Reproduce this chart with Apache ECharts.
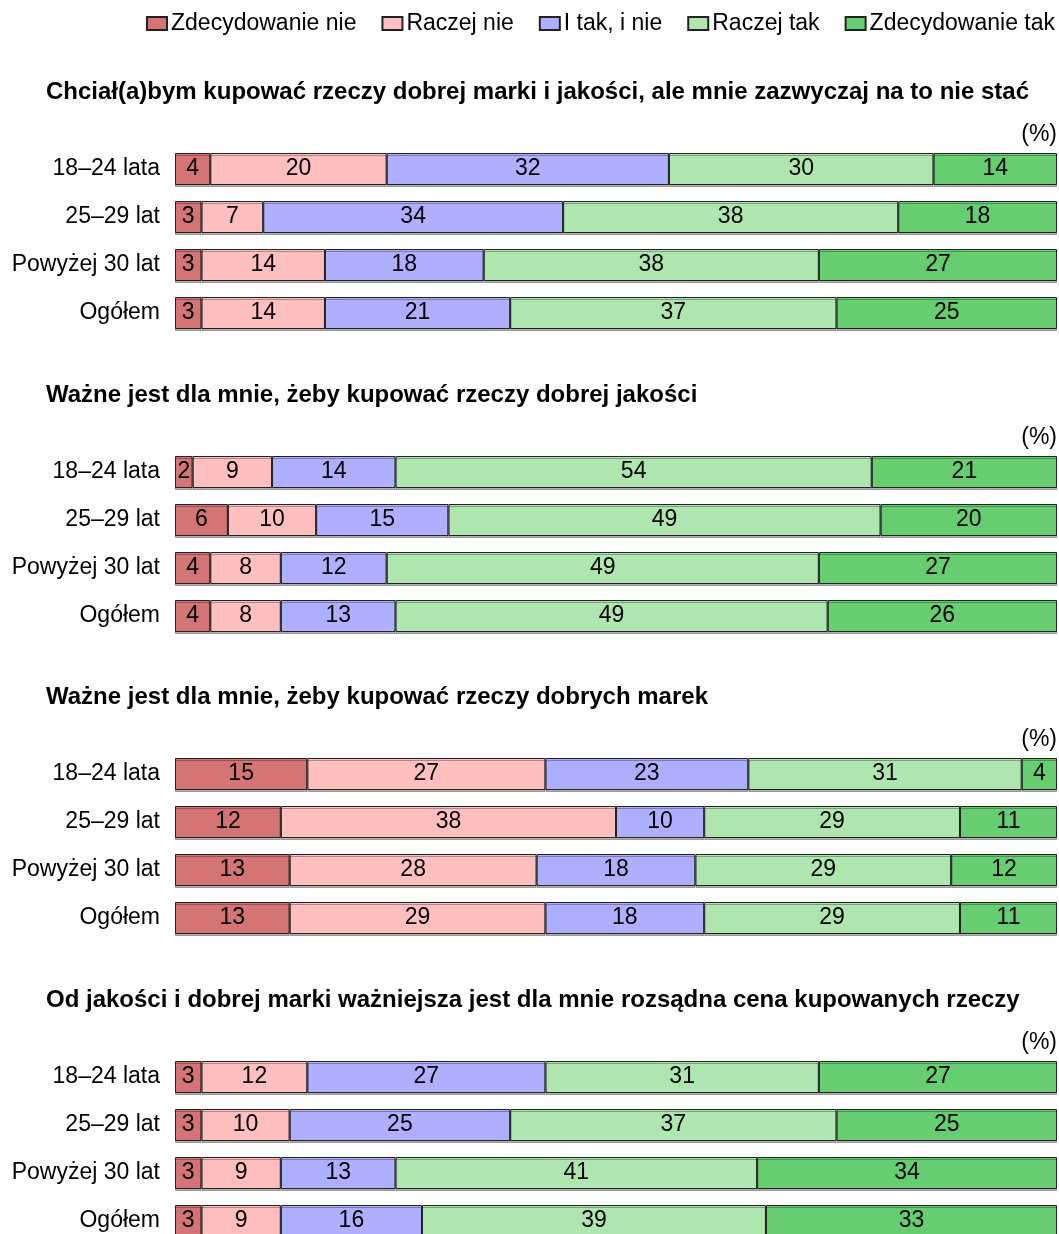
<!DOCTYPE html>
<html>
<head>
<meta charset="utf-8">
<script src="https://cdn.jsdelivr.net/npm/echarts@6/dist/echarts.min.js"></script>
<style>
  html, body { margin: 0; padding: 0; background: #fff; }
  #chart { width: 1059px; height: 1234px; }
</style>
</head>
<body>
<div id="chart"></div>
<script>
// kategorie wiekowe
const groups = ['18–24 lata', '25–29 lat', 'Powyżej 30 lat', 'Ogółem']
const answers = ['Zdecydowanie nie', 'Raczej nie', 'I tak, i nie', 'Raczej tak', 'Zdecydowanie tak']
const colors = ['#D57474', '#FFBFBF', '#AFAFFF', '#AFE6AF', '#66CE70']

const titles = [
  'Chciał(a)bym kupować rzeczy dobrej marki i jakości, ale mnie zazwyczaj na to nie stać',
  'Ważne jest dla mnie, żeby kupować rzeczy dobrej jakości',
  'Ważne jest dla mnie, żeby kupować rzeczy dobrych marek',
  'Od jakości i dobrej marki ważniejsza jest dla mnie rozsądna cena kupowanych rzeczy'
]

// wartości: [panel][odpowiedź][grupa]
const panel1 = [
  [4, 3, 3, 3],
  [20, 7, 14, 14],
  [32, 34, 18, 21],
  [30, 38, 38, 37],
  [14, 18, 27, 25]
]
const panel2 = [
  [2, 6, 4, 4],
  [9, 10, 8, 8],
  [14, 15, 12, 13],
  [54, 49, 49, 49],
  [21, 20, 27, 26]
]
const panel3 = [
  [15, 12, 13, 13],
  [27, 38, 28, 29],
  [23, 10, 18, 18],
  [31, 29, 29, 29],
  [4, 11, 12, 11]
]
const panel4 = [
  [3, 3, 3, 3],
  [12, 10, 9, 9],
  [27, 25, 13, 16],
  [31, 37, 41, 39],
  [27, 25, 34, 33]
]
const panels = [panel1, panel2, panel3, panel4]

const chart = echarts.init(document.getElementById('chart'))
const font = '"Liberation Sans", Arial, sans-serif'
// srodek pierwszego paska w kazdym panelu
const firstRow = [169, 472, 774, 1077]

var grid = [], xAxis = [], yAxis = [], series = [], title = []
panels.forEach((p, i) => {
  grid.push({ left: 175, right: 2, top: firstRow[i], height: 144 })
  xAxis.push({ gridIndex: i, type: 'value', min: 0, max: 100, show: false })
  yAxis.push({
    gridIndex: i,
    type: 'category',
    inverse: true,
    boundaryGap: false,
    data: groups,
    axisLine: { show: false },
    axisTick: { show: false },
    splitLine: { show: false },
    axisLabel: { fontSize: 23, color: '#000', margin: 15, fontFamily: font }
  })
  title.push({
    text: titles[i],
    left: 46,
    top: firstRow[i] - 89,
    padding: 0,
    textStyle: { fontSize: 24, fontWeight: 'bold', color: '#000', fontFamily: font }
  })
  title.push({
    text: '(%)',
    right: 2,
    top: firstRow[i] - 46,
    padding: 0,
    textStyle: { fontSize: 23, fontWeight: 'normal', color: '#000', fontFamily: font }
  })
  p.forEach((vals, j) => {
    series.push({
      name: answers[j],
      type: 'bar',
      stack: 'p' + i,
      xAxisIndex: i,
      yAxisIndex: i,
      barWidth: 32,
      data: vals,
      itemStyle: {
        color: colors[j],
        borderColor: '#222',
        borderWidth: 1,
        shadowColor: 'rgba(0,0,0,0.3)',
        shadowOffsetY: 2
      },
      label: {
        show: true,
        position: 'inside',
        color: '#000',
        fontSize: 23,
        fontFamily: font
      }
    })
  })
})

var option = {
  animation: false,
  textStyle: { fontFamily: font },
  title: title,
  legend: {
    data: answers,
    right: 4,
    top: 12,
    padding: 0,
    itemWidth: 20,
    itemHeight: 13,
    itemGap: 25,
    icon: 'rect',
    textStyle: { fontSize: 23, color: '#000', padding: [0, 0, 0, -1] },
    itemStyle: { shadowOffsetY: 0, shadowColor: 'transparent' }
  },
  grid: grid,
  xAxis: xAxis,
  yAxis: yAxis,
  series: series
}

option && chart.setOption(option)
</script>
</body>
</html>
